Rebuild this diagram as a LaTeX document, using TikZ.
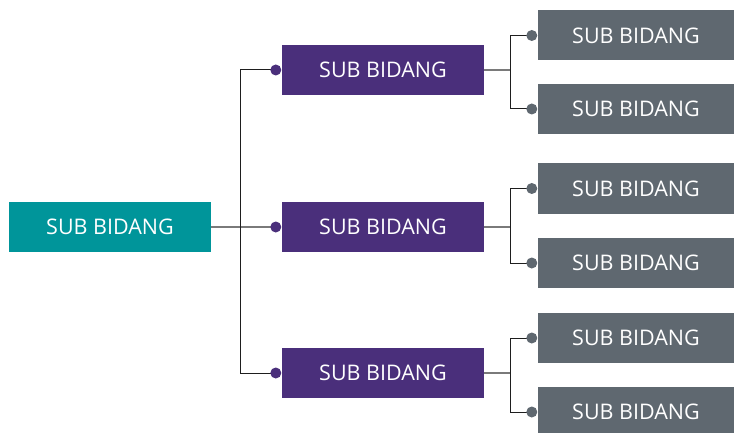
\documentclass[tikz,border=0pt]{standalone}
\usepackage{fontspec}
\setmainfont{Open Sans}
\usetikzlibrary{calc}
\definecolor{rootc}{HTML}{00959A}
\definecolor{midc}{HTML}{4A2F7B}
\definecolor{leafc}{HTML}{5F6870}
\definecolor{stubc}{HTML}{7A7A7A}
\definecolor{linec}{HTML}{1E1E1E}
\tikzset{
  box/.style={minimum width=202pt, minimum height=50pt, inner sep=0pt, text=white, font=\fontsize{21.5}{24}\selectfont},
  rootbox/.style={box, fill=rootc},
  midbox/.style={box, fill=midc},
  leafbox/.style={box, fill=leafc, minimum width=196pt},
  elbow/.style={draw=linec, line width=1pt},
  stub/.style={draw=stubc, line width=1.2pt},
}
\begin{document}
\begin{tikzpicture}[x=1pt,y=-1pt]
\useasboundingbox (0,0) rectangle (734,433);
\node[rootbox] (r) at (110,227) {SUB BIDANG};
\node[midbox] (m1) at (383,70) {SUB BIDANG};
\node[midbox] (m2) at (383,227) {SUB BIDANG};
\node[midbox] (m3) at (383,373) {SUB BIDANG};
\node[leafbox] (l1) at (636,35.5) {SUB BIDANG};
\node[leafbox] (l2) at (636,109) {SUB BIDANG};
\node[leafbox] (l3) at (636,188.5) {SUB BIDANG};
\node[leafbox] (l4) at (636,263) {SUB BIDANG};
\node[leafbox] (l5) at (636,338) {SUB BIDANG};
\node[leafbox] (l6) at (636,412) {SUB BIDANG};
% level 1 connectors
\coordinate (rj) at ($(r.east)+(29,0)$);
\foreach \m in {m1,m2,m3} {
  \coordinate (d\m) at ($(\m.west)+(-6,0)$);
}
\draw[stub] (r.east) -- (dm2);
\draw[elbow] (dm1) -| (rj) |- (dm3);
\foreach \m in {m1,m2,m3} { \fill[midc] (d\m) circle (5.5); }
% level 2 connectors
\foreach \m/\a/\b in {m1/l1/l2, m2/l3/l4, m3/l5/l6} {
  \coordinate (j\m) at ($(\m.east)+(26,0)$);
  \coordinate (d\a) at ($(\a.west)+(-6,0)$);
  \coordinate (d\b) at ($(\b.west)+(-6,0)$);
  \draw[stub] (\m.east) -- (j\m);
  \draw[elbow] (d\a) -| (j\m) |- (d\b);
  \fill[leafc] (d\a) circle (5.5);
  \fill[leafc] (d\b) circle (5.5);
}
\end{tikzpicture}
\end{document}
